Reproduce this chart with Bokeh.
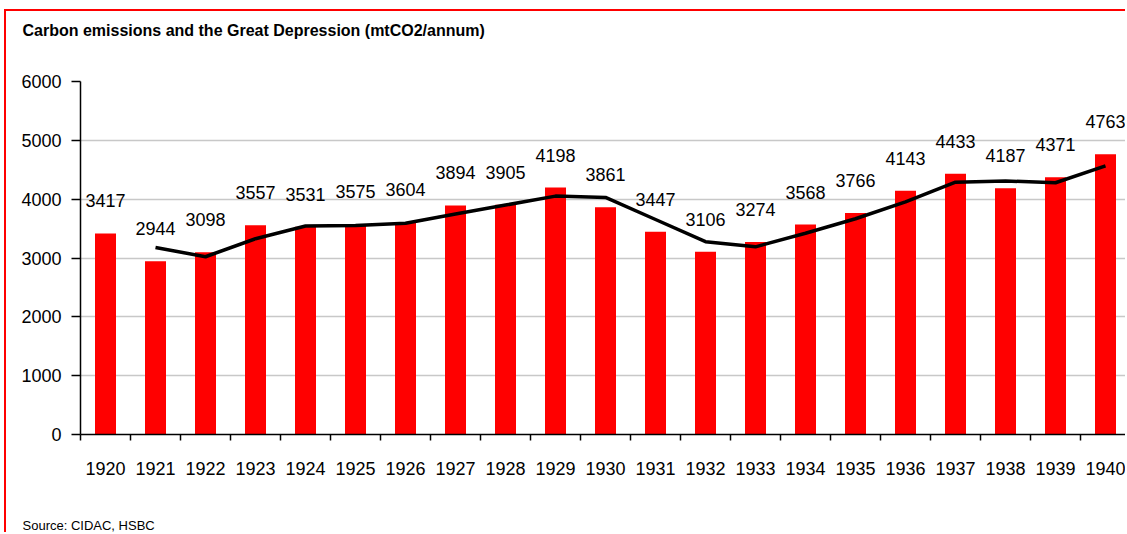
from bokeh.plotting import figure
from bokeh.models import ColumnDataSource, FixedTicker, Range1d, LabelSet, Title
from bokeh.core.properties import value
from bokeh.embed import file_html
from bokeh.resources import INLINE

years = ["1920", "1921", "1922", "1923", "1924", "1925", "1926", "1927", "1928", "1929", "1930",
         "1931", "1932", "1933", "1934", "1935", "1936", "1937", "1938", "1939", "1940"]
emissions = [3417, 2944, 3098, 3557, 3531, 3575, 3604, 3894, 3905, 4198, 3861,
             3447, 3106, 3274, 3568, 3766, 4143, 4433, 4187, 4371, 4763]
# black trend line, starts at 1921
trend_years = years[1:]
trend = [3180, 3021, 3328, 3544, 3553, 3590, 3749, 3900, 4052, 4030,
         3654, 3277, 3190, 3421, 3667, 3955, 4288, 4310, 4279, 4567]
y_ticks = [0, 1000, 2000, 3000, 4000, 5000, 6000]

FONT = "Liberation Sans"
xpos = [i + 0.5 for i in range(len(years))]
tpos = [years.index(y) + 0.5 for y in trend_years]

W, H = 1121, 523
BL, BT, BB = 74, 70, 100

src = ColumnDataSource(dict(x=xpos, y=emissions, lab=[str(v) for v in emissions]))

p = figure(width=W, height=H, output_backend="svg", toolbar_location=None,
           x_range=Range1d(0, (W - BL) / 50.0), y_range=Range1d(0, 6000),
           min_border_left=BL, min_border_right=0, min_border_top=BT, min_border_bottom=BB)
p.styles = {"border-top": "2px solid #ff0000", "border-left": "2px solid #ff0000",
            "margin-left": "4px", "margin-top": "9px"}
p.outline_line_color = None
p.background_fill_color = "white"
p.border_fill_color = "white"

p.vbar(x="x", top="y", width=0.42, source=src, fill_color="#ff0000", line_color=None)
p.line(tpos, trend, line_color="black", line_width=3.5)

labels = LabelSet(x="x", y="y", text="lab", source=src, text_align="center",
                  text_baseline="alphabetic", y_offset=26, text_font=value(FONT),
                  text_font_size="18px", text_color="black")
p.add_layout(labels)

# axes
p.xaxis.ticker = FixedTicker(ticks=xpos, minor_ticks=list(range(len(years) + 1)))
p.xaxis.major_label_overrides = {x: y for x, y in zip(xpos, years)}
p.xaxis.major_tick_line_color = None
p.xaxis.minor_tick_line_color = "black"
p.xaxis.minor_tick_line_width = 1.5
p.xaxis.minor_tick_out = 6
p.xaxis.minor_tick_in = 0
p.xaxis.major_label_standoff = 21
p.xaxis.axis_line_width = 1.5
p.xaxis.axis_line_color = "black"
p.xaxis.major_label_text_font = FONT
p.xaxis.major_label_text_font_size = "18px"
p.xaxis.major_label_text_color = "black"

p.yaxis.ticker = FixedTicker(ticks=y_ticks)
p.yaxis.minor_tick_line_color = None
p.yaxis.major_tick_out = 9
p.yaxis.major_tick_in = 0
p.yaxis.major_tick_line_width = 1.5
p.yaxis.axis_line_width = 1.5
p.yaxis.axis_line_color = "black"
p.yaxis.major_label_standoff = 10
p.yaxis.major_label_text_font = FONT
p.yaxis.major_label_text_font_size = "18px"
p.yaxis.major_label_text_color = "black"

p.xgrid.grid_line_color = None
p.ygrid.grid_line_color = "#c8c8c8"
p.ygrid.grid_line_width = 1.5

# titles: empty default title, spacer titles to push texts outward
p.title.text = ""
p.title.standoff = 0
p.add_layout(Title(text="\u00a0", text_font_size="1px", standoff=40), "above")
p.add_layout(Title(text="Carbon emissions and the Great Depression (mtCO2/annum)",
                   align="left", offset=16 - BL, standoff=0,
                   text_font=FONT, text_font_size="16px",
                   text_font_style="bold", text_color="black"), "above")
p.add_layout(Title(text="\u00a0", text_font_size="1px", standoff=35), "below")
p.add_layout(Title(text="Source: CIDAC, HSBC", align="left", offset=16 - BL, standoff=0,
                   text_font=FONT, text_font_size="13px", text_font_style="normal",
                   text_color="black"), "below")

open("out.html", "w").write(file_html(p, INLINE))
